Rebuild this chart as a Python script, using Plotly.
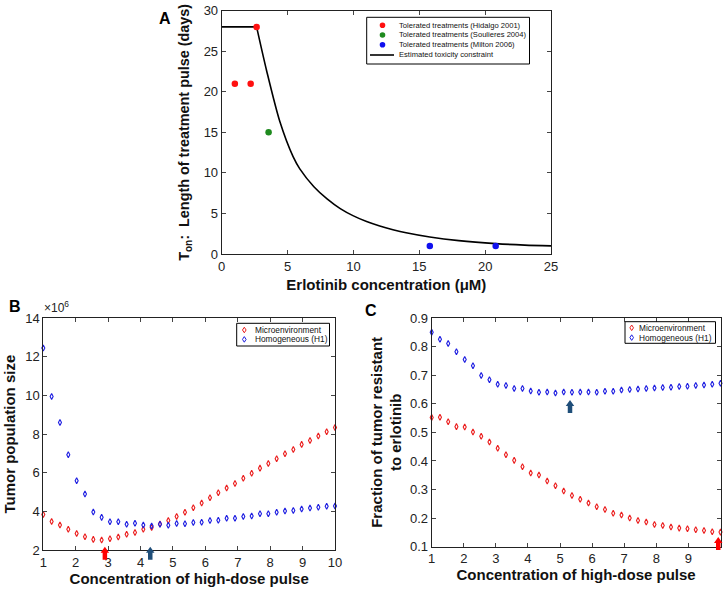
import plotly.graph_objects as go

W, H = 726, 592
FONT = "Liberation Sans"

# ---------------- Panel A data ----------------
hidalgo_conc = [1.0, 2.2, 2.65]
hidalgo_days = [21, 21, 28]
soulieres_conc = [3.56]
soulieres_days = [15]
milton_conc = [15.8, 20.8]
milton_days = [1, 1]
flat_conc = [0, 2.65]
flat_days = [28, 28]
constraint_conc = [2.65, 3.41, 4.42, 5.42, 5.93, 7, 8, 9, 10, 11, 12, 13, 14, 15.8, 18, 20.8, 23, 25]
constraint_days = [28, 22.6, 16.3, 12.0, 10.5, 8.3, 6.8, 5.6, 4.7, 4.0, 3.45, 3.0, 2.62, 2.1, 1.65, 1.28, 1.1, 1.0]
legendA_labels = ["Tolerated treatments (Hidalgo 2001)", "Tolerated treatments (Soulieres 2004)",
                  "Tolerated treatments (Milton 2006)", "Estimated toxicity constraint"]

# ---------------- Panels B, C data ----------------
pulse_conc = [1.000, 1.257, 1.514, 1.771, 2.029, 2.286, 2.543, 2.800, 3.057, 3.314,
              3.571, 3.829, 4.086, 4.343, 4.600, 4.857, 5.114, 5.371, 5.629, 5.886,
              6.143, 6.400, 6.657, 6.914, 7.171, 7.429, 7.686, 7.943, 8.200, 8.457,
              8.714, 8.971, 9.229, 9.486, 9.743, 10.000]

pop_micro = [3.84, 3.48, 3.29, 3.08, 2.86, 2.69, 2.55, 2.52, 2.58, 2.67,
             2.81, 2.91, 3.08, 3.17, 3.35, 3.53, 3.74, 3.96, 4.19, 4.43,
             4.71, 4.97, 5.21, 5.45, 5.72, 5.98, 6.24, 6.48, 6.72, 6.98,
             7.21, 7.47, 7.67, 7.90, 8.12, 8.35]
pop_homog = [12.46, 9.95, 8.60, 6.93, 5.59, 4.90, 3.97, 3.69, 3.46, 3.46,
             3.33, 3.38, 3.29, 3.24, 3.33, 3.28, 3.37, 3.36, 3.43, 3.44,
             3.53, 3.54, 3.64, 3.65, 3.74, 3.76, 3.88, 3.88, 3.95, 4.02,
             4.05, 4.12, 4.17, 4.22, 4.26, 4.28]

frac_micro = [0.552, 0.553, 0.537, 0.520, 0.519, 0.501, 0.486, 0.466, 0.444, 0.422,
              0.402, 0.380, 0.358, 0.351, 0.330, 0.313, 0.295, 0.279, 0.266, 0.253,
              0.240, 0.230, 0.217, 0.211, 0.200, 0.192, 0.186, 0.178, 0.174, 0.169,
              0.165, 0.163, 0.159, 0.157, 0.152, 0.151]
frac_homog = [0.850, 0.826, 0.811, 0.782, 0.755, 0.733, 0.699, 0.684, 0.668, 0.664,
              0.653, 0.653, 0.645, 0.640, 0.641, 0.638, 0.641, 0.640, 0.641, 0.641,
              0.640, 0.644, 0.644, 0.648, 0.650, 0.652, 0.653, 0.655, 0.657, 0.658,
              0.660, 0.661, 0.664, 0.666, 0.668, 0.672]
series_labels = ["Microenvironment", "Homogeneous (H1)"]

# optimum markers (arrows): x position and tip value
arrowB_x = [2.9, 4.3]
arrowB_tip = [2.17, 2.17]
arrowC_x = [5.31, 9.93]
arrowC_tip = [0.613, 0.134]

RED = "rgb(235,30,30)"
BLUE = "rgb(30,30,225)"
NAVY = "#1f4e79"
A_COLORS = ["#ff1010", "#1e8a1e", "#1010ee"]

# axis geometry (pixels of the 726x592 canvas)
axA = dict(xdom=[221.7 / W, 551 / W], ydom=[1 - 254 / H, 1 - 10.7 / H], xr=[0, 25], yr=[0, 30])
axB = dict(xdom=[43.3 / W, 335 / W], ydom=[1 - 550 / H, 1 - 318.3 / H], xr=[1, 10], yr=[2, 14])
axC = dict(xdom=[431.7 / W, 720.5 / W], ydom=[1 - 546.7 / H, 1 - 318 / H], xr=[1, 10], yr=[0.1, 0.9])

fig = go.Figure()

# Panel A
fig.add_trace(go.Scatter(x=flat_conc, y=flat_days, mode="lines", line=dict(color="black", width=1.6),
                         showlegend=False, hoverinfo="skip", xaxis="x", yaxis="y"))
fig.add_trace(go.Scatter(x=constraint_conc, y=constraint_days, mode="lines",
                         line=dict(color="black", width=1.6, shape="spline", smoothing=0.8),
                         name=legendA_labels[3], showlegend=False, xaxis="x", yaxis="y"))
for xs, ys, col, lab in [(hidalgo_conc, hidalgo_days, A_COLORS[0], legendA_labels[0]),
                         (soulieres_conc, soulieres_days, A_COLORS[1], legendA_labels[1]),
                         (milton_conc, milton_days, A_COLORS[2], legendA_labels[2])]:
    fig.add_trace(go.Scatter(x=xs, y=ys, mode="markers", marker=dict(color=col, size=6.5), name=lab,
                             showlegend=False, xaxis="x", yaxis="y", cliponaxis=False))

# Panels B and C
mk = dict(symbol="diamond-tall-open", size=4.3, line=dict(width=1.1))
for xa, ya, ys, col, lab in [("x2", "y2", pop_micro, RED, series_labels[0]),
                             ("x2", "y2", pop_homog, BLUE, series_labels[1]),
                             ("x3", "y3", frac_micro, RED, series_labels[0]),
                             ("x3", "y3", frac_homog, BLUE, series_labels[1])]:
    fig.add_trace(go.Scatter(x=pulse_conc, y=ys, mode="markers", name=lab, showlegend=False,
                             marker=dict(color=col, **mk), xaxis=xa, yaxis=ya, cliponaxis=False))


def to_px(ax, xd, yd):
    fx = ax["xdom"][0] + (xd - ax["xr"][0]) / (ax["xr"][1] - ax["xr"][0]) * (ax["xdom"][1] - ax["xdom"][0])
    fy = ax["ydom"][0] + (yd - ax["yr"][0]) / (ax["yr"][1] - ax["yr"][0]) * (ax["ydom"][1] - ax["ydom"][0])
    return fx * W, (1 - fy) * H


def poly(pts, fill, line_color=None, lw=0):
    path = "M " + " L ".join(f"{x / W:.5f},{1 - y / H:.5f}" for x, y in pts) + " Z"
    return dict(type="path", path=path, xref="paper", yref="paper", fillcolor=fill,
                line=dict(width=lw, color=line_color or fill), layer="above")


def arrow_shape(ax, xd, yd, color, height=13, head_h=6, head_w=8.5, shaft_w=4.5):
    px, py = to_px(ax, xd, yd)
    pts = [(px, py), (px + head_w / 2, py + head_h), (px + shaft_w / 2, py + head_h),
           (px + shaft_w / 2, py + height), (px - shaft_w / 2, py + height),
           (px - shaft_w / 2, py + head_h), (px - head_w / 2, py + head_h)]
    return poly(pts, color)


def box(x0, y0, x1, y1):
    return dict(type="rect", xref="paper", yref="paper", x0=x0 / W, x1=x1 / W, y0=1 - y1 / H, y1=1 - y0 / H,
                line=dict(color="black", width=1), fillcolor="white", layer="above")


def dot(cx, cy, r, col):
    return dict(type="circle", xref="paper", yref="paper", x0=(cx - r) / W, x1=(cx + r) / W,
                y0=1 - (cy + r) / H, y1=1 - (cy - r) / H, fillcolor=col, line=dict(width=0), layer="above")


def diamond(cx, cy, col, hw=1.8, hh=2.8):
    path = (f"M {cx / W:.5f},{1 - (cy - hh) / H:.5f} L {(cx + hw) / W:.5f},{1 - cy / H:.5f} "
            f"L {cx / W:.5f},{1 - (cy + hh) / H:.5f} L {(cx - hw) / W:.5f},{1 - cy / H:.5f} Z")
    return dict(type="path", path=path, xref="paper", yref="paper", fillcolor="rgba(0,0,0,0)",
                line=dict(width=1.0, color=col), layer="above")


def label(x, y, text, size):
    return dict(text=text, x=x / W, y=1 - y / H, xref="paper", yref="paper", xanchor="left",
                yanchor="middle", showarrow=False, font=dict(family=FONT, size=size, color="#111"))


shapes = [
    arrow_shape(axB, arrowB_x[0], arrowB_tip[0], "#ff0000"),
    arrow_shape(axB, arrowB_x[1], arrowB_tip[1], NAVY),
    arrow_shape(axC, arrowC_x[0], arrowC_tip[0], NAVY),
    arrow_shape(axC, arrowC_x[1], arrowC_tip[1], "#ff0000"),
]
annotations = []

# Legend A (compact, MATLAB style)
shapes.append(box(366.7, 17.3, 529.5, 64))
rowsA = [25.2, 35.0, 44.8, 55.0]
for i in range(3):
    shapes.append(dot(382.5, rowsA[i], 2.8, A_COLORS[i]))
shapes.append(dict(type="line", xref="paper", yref="paper", x0=370 / W, x1=394 / W,
                   y0=1 - rowsA[3] / H, y1=1 - rowsA[3] / H, line=dict(color="black", width=1.6),
                   layer="above"))
for i in range(4):
    annotations.append(label(397, rowsA[i], legendA_labels[i], 7.6))

# Legend B
shapes.append(box(236.7, 323.3, 329.5, 346))
for i, (yy, col) in enumerate([(330.0, RED), (339.4, BLUE)]):
    shapes.append(diamond(244.3, yy, col))
    annotations.append(label(252.5, yy, series_labels[i], 8.3))

# Legend C
shapes.append(box(625, 321.7, 715.5, 343.3))
for i, (yy, col) in enumerate([(327.8, RED), (337.6, BLUE)]):
    shapes.append(diamond(631.7, yy, col))
    annotations.append(label(636.5, yy, series_labels[i], 8.3))

tickfont = dict(family=FONT, size=13, color="#222")
titlefont = dict(family=FONT, size=15, color="#111")


def axis_common(dom, rng, dtick, anchor, title, standoff, fmt=None, tfont=None):
    d = dict(domain=dom, range=rng, dtick=dtick, tick0=rng[0], anchor=anchor,
             showline=True, linecolor="#222", linewidth=1, mirror="ticks",
             ticks="inside", ticklen=4, tickcolor="#444", showgrid=False, zeroline=False,
             tickfont=tickfont, title=dict(text=title, font=tfont or titlefont, standoff=standoff),
             automargin=False)
    if fmt:
        d["tickformat"] = fmt
    return d


annotations += [
    dict(text="<b>A</b>", x=157 / W, y=1 - 8 / H, xref="paper", yref="paper", showarrow=False,
         font=dict(family=FONT, size=16, color="black")),
    dict(text="<b>B</b>", x=7 / W, y=1 - 306 / H, xref="paper", yref="paper", showarrow=False,
         font=dict(family=FONT, size=16, color="black")),
    dict(text="<b>C</b>", x=371 / W, y=1 - 310 / H, xref="paper", yref="paper", showarrow=False,
         font=dict(family=FONT, size=16, color="black")),
    dict(text="\u00d710<sup>6</sup>", x=42 / W, y=1 - 307 / H, xref="paper", yref="paper",
         xanchor="left", showarrow=False, font=dict(family=FONT, size=12, color="#222")),
]

fig.update_layout(
    width=W, height=H, margin=dict(l=0, r=0, t=0, b=0), autosize=False,
    paper_bgcolor="white", plot_bgcolor="white", showlegend=False,
    font=dict(family=FONT, color="#222"),
    xaxis=axis_common(axA["xdom"], axA["xr"], 5, "y", "<b>Erlotinib concentration (\u03bcM)</b>", 6),
    yaxis=axis_common(axA["ydom"], axA["yr"], 5, "x",
                      "<b>T<sub>on</sub>:  Length of treatment pulse (days)</b>", 10,
                      tfont=dict(family=FONT, size=14.4, color="#111")),
    xaxis2=axis_common(axB["xdom"], axB["xr"], 1, "y2", "<b>Concentration of high-dose pulse</b>", 4),
    yaxis2=axis_common(axB["ydom"], axB["yr"], 2, "x2", "<b>Tumor population size</b>", 5),
    xaxis3=axis_common(axC["xdom"], axC["xr"], 1, "y3", "<b>Concentration of high-dose pulse</b>", 4),
    yaxis3=axis_common(axC["ydom"], axC["yr"], 0.1, "x3",
                       "<b>Fraction of tumor resistant<br>to erlotinib</b>", 4, ".1f"),
    shapes=shapes,
    annotations=annotations,
)

post = ("document.documentElement.style.margin='0';document.body.style.margin='0';"
        "document.documentElement.style.overflow='hidden';document.body.style.overflow='hidden';"
        "var gd=document.getElementById('{plot_id}');if(window.Plotly&&gd){Plotly.Plots.resize(gd);}")
fig.write_html("out.html", post_script=post, config={"responsive": False, "displayModeBar": False})
